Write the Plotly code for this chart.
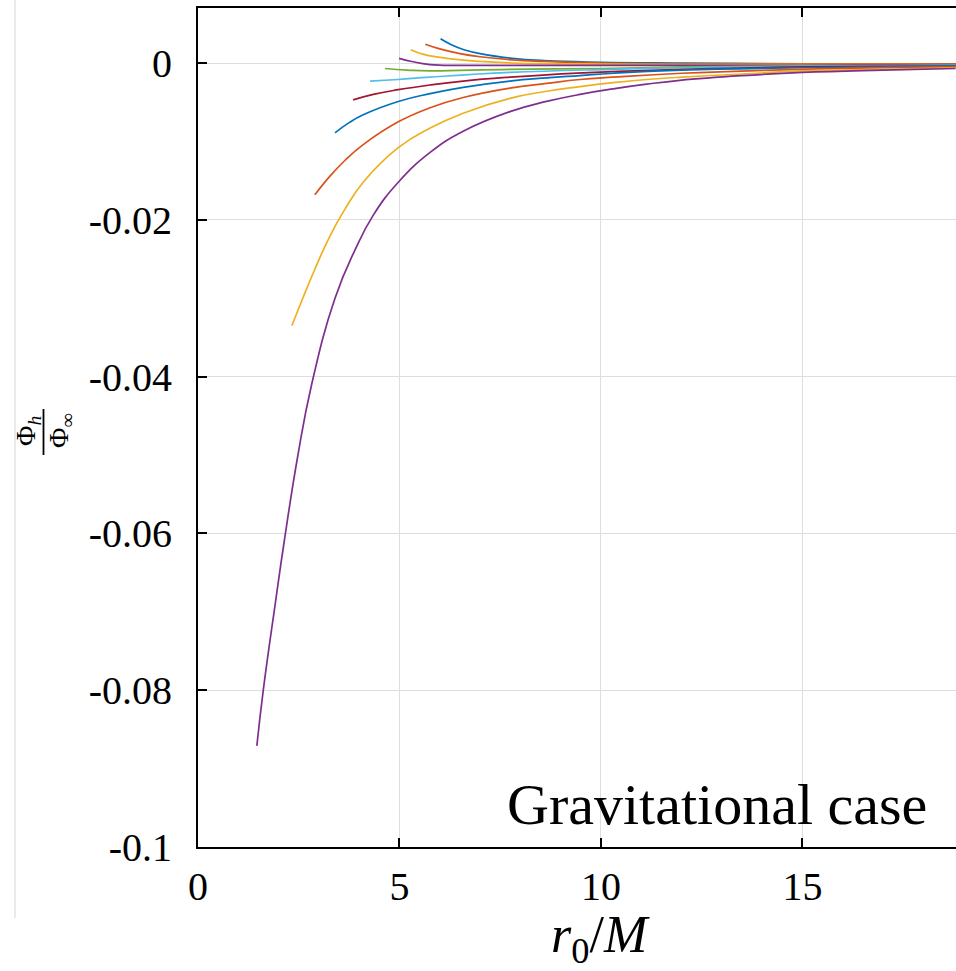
import plotly.graph_objects as go

# r0/M samples and normalised horizon potential for each orbit family
blue_top_x = [6.02, 6.3, 6.6, 7.0, 7.8, 8.6, 10.0, 12.0, 15.0, 18.8]
blue_top_y = [0.0031, 0.0023, 0.0017, 0.0012, 0.0006, 0.0003, 0.0001, 0.0, -0.0001, -0.0001]

orange_top_x = [5.64, 6.0, 6.5, 7.0, 7.8, 8.6, 10.0, 12.0, 15.0, 18.8]
orange_top_y = [0.0024, 0.0018, 0.0012, 0.0008, 0.0004, 0.0002, 0.0, -0.0001, -0.0001, -0.0001]

yellow_top_x = [5.28, 5.6, 6.17, 7.0, 7.8, 9.0, 12.0, 15.0, 18.8]
yellow_top_y = [0.0017, 0.0011, 0.0006, 0.0002, 0.0, -0.0001, -0.0002, -0.0002, -0.0002]

purple_top_x = [4.99, 5.3, 5.76, 6.6, 7.74, 10.0, 12.0, 15.0, 18.8]
purple_top_y = [0.0006, 0.0002, -0.0002, -0.0003, -0.0003, -0.0003, -0.0003, -0.0003, -0.0002]

green_x = [4.64, 5.2, 5.76, 7.74, 10.0, 12.0, 15.0, 18.8]
green_y = [-0.0007, -0.0009, -0.0010, -0.0008, -0.0007, -0.0005, -0.0004, -0.0003]

lightblue_x = [4.27, 4.97, 5.76, 7.74, 10.3, 12.0, 15.0, 18.8]
lightblue_y = [-0.0023, -0.0021, -0.0018, -0.0012, -0.0008, -0.0006, -0.0004, -0.0003]

darkred_x = [3.85, 4.35, 4.97, 5.76, 6.58, 7.74, 8.65, 10.3, 12.0, 15.0, 18.8]
darkred_y = [-0.0047, -0.0040, -0.0034, -0.0028, -0.0023, -0.0018, -0.0015, -0.0011, -0.0008, -0.0005, -0.0004]

blue_x = [3.40, 3.75, 4.10, 4.97, 5.76, 6.58, 7.74, 8.65, 9.48, 10.3, 12.0, 15.0, 18.8]
blue_y = [-0.0089, -0.0076, -0.0066, -0.0049, -0.0039, -0.0031, -0.0023, -0.0019, -0.0016, -0.0013, -0.0009,
          -0.0006, -0.0004]

orange_x = [2.90, 3.28, 3.65, 4.10, 4.97, 5.76, 6.58, 7.74, 8.65, 9.48, 10.3, 12.0, 15.0, 18.8]
orange_y = [-0.0168, -0.0144, -0.0124, -0.0104, -0.0075, -0.0057, -0.0044, -0.0032, -0.0026, -0.0021, -0.0018,
            -0.0013, -0.0008, -0.0005]

yellow_x = [2.33, 2.60, 2.90, 3.28, 3.65, 4.10, 4.97, 5.76, 6.58, 7.74, 8.65, 9.48, 10.3, 11.13, 12.0, 13.5, 15.0,
            17.0, 18.8]
yellow_y = [-0.0335, -0.0300, -0.0263, -0.0220, -0.0186, -0.0152, -0.0108, -0.0083, -0.0064, -0.0045, -0.0036,
            -0.0030, -0.0025, -0.0021, -0.0018, -0.0014, -0.0010, -0.0008, -0.0006]

purple_x = [1.46, 1.62, 1.93, 2.14, 2.48, 2.82, 3.40, 3.90, 4.35, 4.97, 5.76, 6.58, 7.74, 8.65, 9.48, 10.3, 11.13,
            11.96, 13.5, 15.0, 17.0, 18.8]
purple_y = [-0.0871, -0.0800, -0.0685, -0.0610, -0.0500, -0.0410, -0.0300, -0.0238, -0.0194, -0.0152, -0.0114,
            -0.0087, -0.0062, -0.0049, -0.0040, -0.0033, -0.0027, -0.0022, -0.0016, -0.0012, -0.0009, -0.0007]

series = [
    (blue_top_x, blue_top_y, "#0072BD"),
    (orange_top_x, orange_top_y, "#D95319"),
    (yellow_top_x, yellow_top_y, "#EDB120"),
    (purple_top_x, purple_top_y, "#7E2F8E"),
    (green_x, green_y, "#77AC30"),
    (lightblue_x, lightblue_y, "#4DBEEE"),
    (darkred_x, darkred_y, "#A2142F"),
    (blue_x, blue_y, "#0072BD"),
    (orange_x, orange_y, "#D95319"),
    (yellow_x, yellow_y, "#EDB120"),
    (purple_x, purple_y, "#7E2F8E"),
]

x_ticks = [0, 5, 10, 15]
x_tick_text = ["0", "5", "10", "15"]
y_ticks = [0, -0.02, -0.04, -0.06, -0.08, -0.1]
y_tick_text = ["0", "-0.02", "-0.04", "-0.06", "-0.08", "-0.1"]

W, H = 956, 971
ML, MR, MT, MB = 198, 0, 8, 124
PW, PH = W - ML - MR, H - MT - MB


def px_x(p):
    return (p - ML) / PW


def px_y(p):
    return (H - MB - p) / PH


fig = go.Figure()
for xs, ys, col in series:
    fig.add_trace(go.Scatter(x=xs, y=ys, mode="lines", line=dict(color=col, width=1.7, shape="spline", smoothing=1.3),
                             showlegend=False, hoverinfo="skip"))

serif = "Liberation Serif, Times New Roman, serif"
axis_common = dict(showgrid=True, gridcolor="#dedede", gridwidth=1.3, zeroline=False,
                   showline=True, linecolor="black", linewidth=2, ticks="inside", ticklen=9,
                   tickwidth=1.5, tickcolor="black", tickfont=dict(family=serif, size=40, color="black"))

fig.update_xaxes(range=[0, 18.81], tickmode="array", tickvals=x_ticks, ticktext=x_tick_text,
                 mirror="ticks", ticklabelstandoff=3, **axis_common)
fig.update_yaxes(range=[-0.1, 0.00702], tickmode="array", tickvals=y_ticks, ticktext=y_tick_text,
                 mirror=False, ticklabelstandoff=16, **axis_common)

# Panel label
fig.add_annotation(x=12.88, y=-0.0946, xref="x", yref="y", text="Gravitational case", showarrow=False,
                   font=dict(family=serif, size=58, color="black"), xanchor="center", yanchor="middle")

# Horizontal axis title
fig.add_annotation(x=10, y=px_y(938), xref="x", yref="paper",
                   text="<i>r</i><sub>0</sub>/<i>M</i>", showarrow=False,
                   font=dict(family=serif, size=52, color="black"), xanchor="center", yanchor="middle")

# Vertical axis title drawn as a rotated fraction
fig.add_annotation(x=px_x(28), y=px_y(431), xref="paper", yref="paper", text="Φ<sub><i>h</i></sub>",
                   showarrow=False, textangle=-90, font=dict(family=serif, size=28, color="black"),
                   xanchor="center", yanchor="middle")
fig.add_annotation(x=px_x(61), y=px_y(431), xref="paper", yref="paper", text="Φ<sub>∞</sub>",
                   showarrow=False, textangle=-90, font=dict(family=serif, size=28, color="black"),
                   xanchor="center", yanchor="middle")
fig.add_shape(type="line", xref="paper", yref="paper", x0=px_x(43.5), x1=px_x(43.5),
              y0=px_y(455), y1=px_y(409), line=dict(color="black", width=1.8))

# faint frame edge on the left of the page
fig.add_shape(type="line", xref="paper", yref="paper", x0=px_x(15), x1=px_x(15),
              y0=px_y(0), y1=px_y(918), line=dict(color="#e2e2e2", width=1.5))

fig.update_layout(width=W, height=H, margin=dict(l=ML, r=MR, t=MT, b=MB),
                  plot_bgcolor="white", paper_bgcolor="white")

fig.write_html("out.html")
